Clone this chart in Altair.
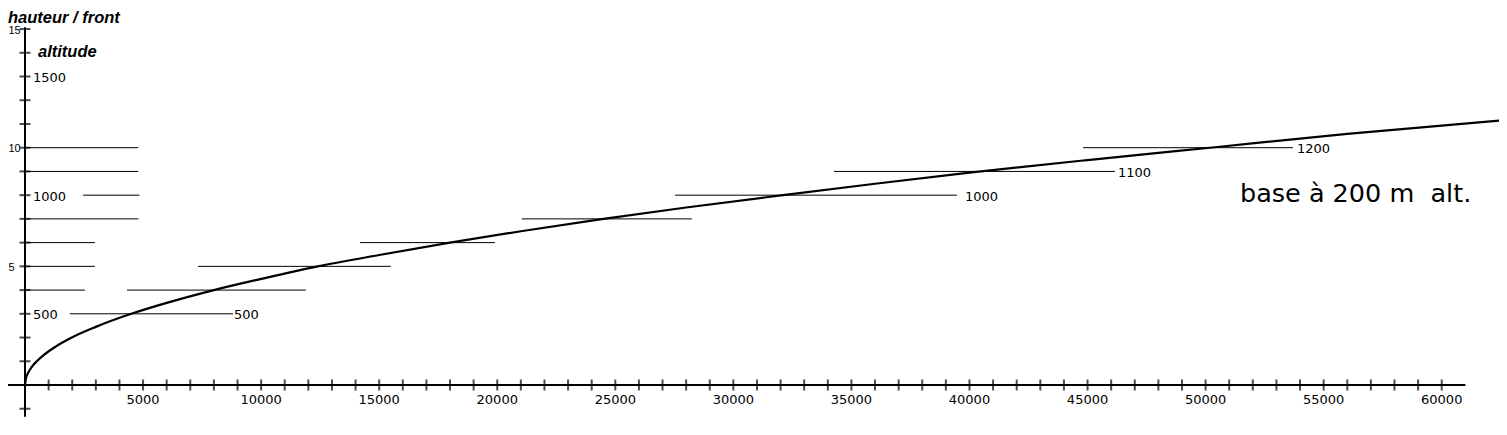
import altair as alt
import pandas as pd

# ---- data ----
# curve: hauteur (y, in front-heights) vs distance (x)
curve_x = [0, 40, 100, 200, 350, 500, 800, 1300, 1900, 3000, 4500, 6000, 8000, 10000, 12400,
           15000, 18000, 21000, 24500, 28000, 32100, 36000, 40000, 45000, 50500, 56000, 62500]
curve_y = [0, 0.28, 0.45, 0.63, 0.84, 1.0, 1.27, 1.62, 1.96, 2.45, 3.0, 3.46, 4.0, 4.47, 5.0,
           5.48, 6.0, 6.48, 7.0, 7.48, 8.0, 8.48, 8.95, 9.48, 10.03, 10.58, 11.15]

# horizontal reference segments (level, start, end)
seg_y = [10, 9, 8, 7, 6, 5, 4, 3, 10, 9, 8, 7, 6, 5, 4]
seg_x1 = [0, 0, 2460, 0, 0, 0, 0, 1900, 44810, 34260, 27530, 21040, 14190, 7330, 4320]
seg_x2 = [4800, 4800, 4850, 4800, 2960, 2960, 2540, 8810, 53700, 46160, 39470, 28240, 19900, 15490, 11890]

# labels at the end of segments
end_label_text = ["500", "1000", "1100", "1200"]
end_label_x = [8851, 39810, 46290, 53870]
end_label_y = [3, 8, 9, 10]

# axes
x_ticks = list(range(1000, 61000, 1000))
x_tick_labels = [5000, 10000, 15000, 20000, 25000, 30000, 35000, 40000, 45000, 50000, 55000, 60000]
y_ticks = [-1] + list(range(1, 16))
y_tick_labels = [5, 10, 15]
alt_levels = [3, 8, 13]
alt_labels = ["500", "1000", "1500"]
x_axis_extent = [-1100, 61000]
y_axis_extent = [-1.34, 15.08]

# annotations (text, x, y)
titles = [("hauteur / front", -720, 15.24), ("altitude", 550, 13.82)]
note = [("base à 200 m\u00a0 alt.", 51457, 7.71)]

# ---- scales ----
xs = alt.Scale(domain=[-720, 62426], nice=False, zero=False)
ys = alt.Scale(domain=[-1.475, 15.887], nice=False, zero=False)
X = lambda f: alt.X(f, type="quantitative", scale=xs, axis=None)
Y = lambda f: alt.Y(f, type="quantitative", scale=ys, axis=None)

NUMFONT = "DejaVu Sans"
TITLEFONT = "Liberation Sans"

curve_df = pd.DataFrame({"x": curve_x, "y": curve_y})
seg_df = pd.DataFrame({"y": seg_y, "x1": seg_x1, "x2": seg_x2})
endlab_df = pd.DataFrame({"t": end_label_text, "x": end_label_x, "y": end_label_y})
xt_df = pd.DataFrame({"x": x_ticks, "y": [0] * len(x_ticks)})
xl_df = pd.DataFrame({"x": x_tick_labels, "y": [0] * len(x_tick_labels),
                      "t": [str(v) for v in x_tick_labels]})
yt_df = pd.DataFrame({"y": y_ticks, "x": [0] * len(y_ticks)})
yl_df = pd.DataFrame({"y": y_tick_labels, "x": [0] * len(y_tick_labels),
                      "t": [str(v) for v in y_tick_labels]})
al_df = pd.DataFrame({"y": alt_levels, "x": [0] * len(alt_levels), "t": alt_labels})
xaxis_df = pd.DataFrame({"x1": [x_axis_extent[0]], "x2": [x_axis_extent[1]], "y": [0]})
yaxis_df = pd.DataFrame({"y1": [y_axis_extent[0]], "y2": [y_axis_extent[1]], "x": [0]})
title_df = pd.DataFrame(titles, columns=["t", "x", "y"])
note_df = pd.DataFrame(note, columns=["t", "x", "y"])

segments = alt.Chart(seg_df).mark_rule(color="black", strokeWidth=1).encode(
    x=X("x1"), x2="x2", y=Y("y"))

curve = alt.Chart(curve_df).mark_line(color="black", strokeWidth=2.2, interpolate="monotone").encode(
    x=X("x"), y=Y("y"))

xaxis = alt.Chart(xaxis_df).mark_rule(color="black", strokeWidth=2).encode(
    x=X("x1"), x2="x2", y=Y("y"))
yaxis = alt.Chart(yaxis_df).mark_rule(color="black", strokeWidth=2).encode(
    y=Y("y1"), y2="y2", x=X("x"))

xticks = alt.Chart(xt_df).mark_tick(orient="vertical", size=11, thickness=2, color="black").encode(
    x=X("x"), y=Y("y"))
yticks = alt.Chart(yt_df).mark_tick(orient="horizontal", size=11, thickness=2, color="black").encode(
    x=X("x"), y=Y("y"))

xlabels = alt.Chart(xl_df).mark_text(align="center", baseline="alphabetic", dy=19,
                                     font=NUMFONT, fontSize=13, color="black").encode(
    x=X("x"), y=Y("y"), text="t:N")
# y labels sit just inside the left edge of the picture
ylabels = alt.Chart(yl_df).mark_text(align="left", baseline="alphabetic", dx=-16.5, dy=4.5,
                                     font="Liberation Sans", fontSize=11,
                                     color="black").encode(
    x=X("x"), y=Y("y"), text="t:N")
altlabels = alt.Chart(al_df).mark_text(align="left", baseline="alphabetic", dx=8, dy=5.5,
                                       font=NUMFONT, fontSize=13, color="black").encode(
    x=X("x"), y=Y("y"), text="t:N")
endlabels = alt.Chart(endlab_df).mark_text(align="left", baseline="alphabetic", dy=5.5,
                                           font=NUMFONT, fontSize=13, color="black").encode(
    x=X("x"), y=Y("y"), text="t:N")

title_txt = alt.Chart(title_df).mark_text(align="left", baseline="alphabetic", font=TITLEFONT,
                                          fontSize=16.5, fontWeight="bold", fontStyle="italic",
                                          color="black").encode(
    x=X("x"), y=Y("y"), text="t:N")
note_txt = alt.Chart(note_df).mark_text(align="left", baseline="alphabetic", font=NUMFONT,
                                        fontSize=25.5, color="black").encode(
    x=X("x"), y=Y("y"), text="t:N")

chart = alt.layer(
    segments, curve, xaxis, yaxis, xticks, yticks,
    xlabels, ylabels, altlabels, endlabels, title_txt, note_txt
).properties(
    width=1491, height=412,
    autosize=alt.AutoSizeParams(type="none"),
    padding=0,
    background="white",
).configure_view(stroke=None)

chart.save("out.html", embed_options={"renderer": "svg", "actions": False})
